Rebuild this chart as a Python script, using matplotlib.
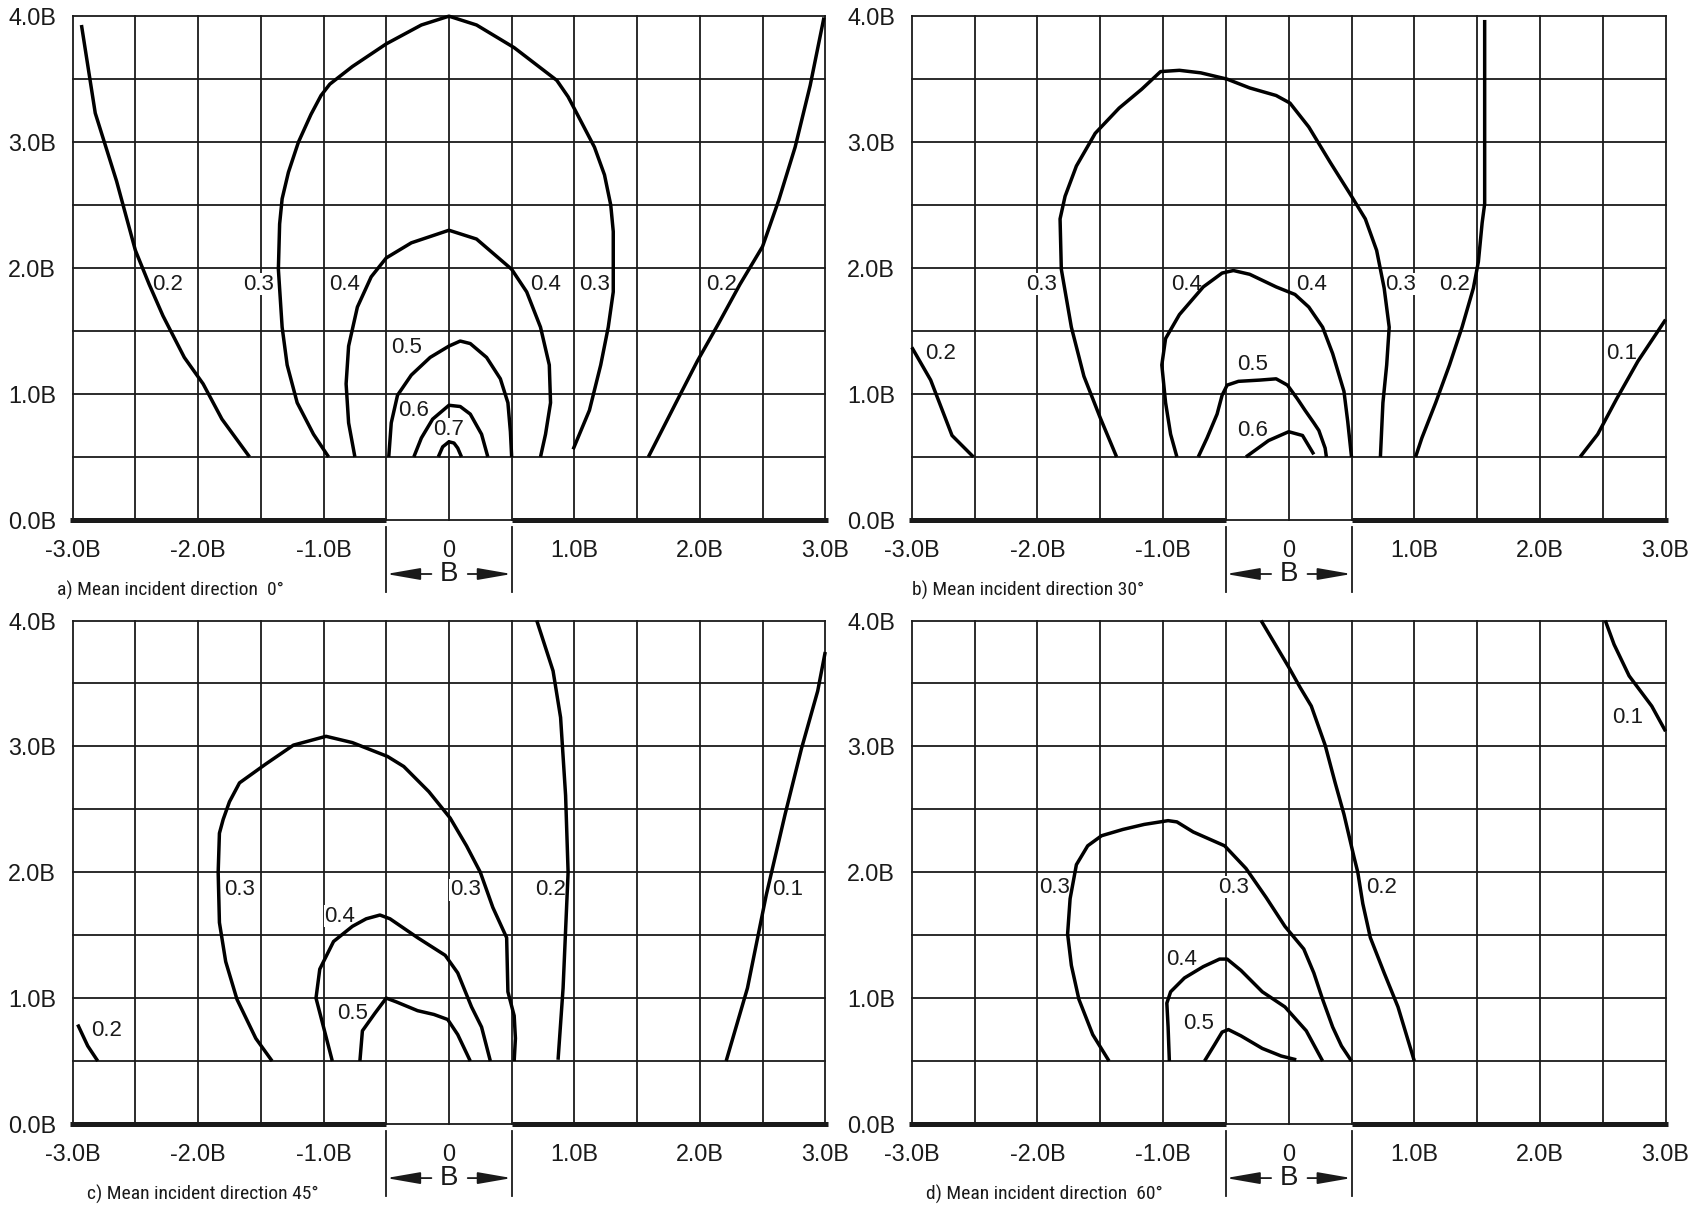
import numpy as np
import matplotlib.pyplot as plt

plt.rcParams['font.family'] = ['Liberation Sans', 'DejaVu Sans']
caption_font = ['Roboto Condensed', 'Archivo Narrow', 'Liberation Sans Narrow', 'Liberation Sans']

# contour lines, points in units of B (x, height)
# a) 0 deg
a_02_left = [(-2.93, 3.93), (-2.82, 3.23), (-2.65, 2.69), (-2.50, 2.14), (-2.39, 1.87), (-2.28, 1.62),
             (-2.11, 1.29), (-1.96, 1.08), (-1.81, 0.80), (-1.59, 0.50)]
a_02_right = [(2.99, 3.99), (2.88, 3.45), (2.76, 2.96), (2.63, 2.54), (2.50, 2.17), (2.32, 1.87),
              (2.15, 1.56), (1.98, 1.26), (1.81, 0.93), (1.59, 0.50)]
a_03 = [(-0.96, 0.50), (-1.08, 0.68), (-1.21, 0.93), (-1.29, 1.23), (-1.33, 1.53), (-1.36, 1.99),
        (-1.35, 2.35), (-1.33, 2.55), (-1.28, 2.76), (-1.20, 3.00), (-1.10, 3.22), (-1.02, 3.37),
        (-0.95, 3.46), (-0.77, 3.60), (-0.50, 3.78), (-0.22, 3.93), (0.0, 4.0), (0.22, 3.93),
        (0.52, 3.75), (0.86, 3.49), (0.95, 3.36), (1.05, 3.17), (1.16, 2.96), (1.24, 2.74),
        (1.29, 2.50), (1.31, 2.29), (1.31, 1.81), (1.27, 1.53), (1.21, 1.23), (1.12, 0.87), (0.99, 0.56)]
a_04 = [(-0.75, 0.50), (-0.80, 0.77), (-0.82, 1.08), (-0.80, 1.38), (-0.73, 1.69), (-0.62, 1.93),
        (-0.50, 2.08), (-0.30, 2.20), (0.0, 2.30), (0.22, 2.23), (0.50, 1.99), (0.62, 1.81),
        (0.73, 1.53), (0.80, 1.23), (0.81, 0.93), (0.77, 0.68), (0.73, 0.50)]
a_05 = [(-0.48, 0.50), (-0.46, 0.77), (-0.41, 0.99), (-0.30, 1.15), (-0.15, 1.29), (0.0, 1.38),
        (0.09, 1.42), (0.17, 1.40), (0.30, 1.29), (0.41, 1.12), (0.47, 0.93), (0.49, 0.70), (0.50, 0.50)]
a_06 = [(-0.28, 0.50), (-0.22, 0.65), (-0.13, 0.80), (0.0, 0.91), (0.09, 0.90), (0.17, 0.84),
        (0.26, 0.68), (0.31, 0.50)]
a_07 = [(-0.085, 0.50), (-0.05, 0.58), (0.0, 0.62), (0.04, 0.61), (0.07, 0.57), (0.10, 0.50)]
a_labels = [('0.2', -2.24, 1.87), ('0.3', -1.52, 1.87), ('0.4', -0.83, 1.87), ('0.5', -0.34, 1.37),
            ('0.6', -0.28, 0.87), ('0.7', 0.0, 0.72), ('0.4', 0.77, 1.87), ('0.3', 1.16, 1.87),
            ('0.2', 2.17, 1.87)]

# b) 30 deg
b_02_left = [(-3.0, 1.37), (-2.85, 1.11), (-2.68, 0.67), (-2.51, 0.50)]
b_03 = [(-1.37, 0.50), (-1.50, 0.81), (-1.63, 1.14), (-1.73, 1.53), (-1.81, 1.99), (-1.82, 2.39),
        (-1.78, 2.57), (-1.69, 2.81), (-1.54, 3.07), (-1.35, 3.27), (-1.17, 3.42), (-1.02, 3.56),
        (-0.87, 3.57), (-0.70, 3.55), (-0.49, 3.50), (-0.31, 3.43), (-0.10, 3.37), (0.01, 3.31),
        (0.16, 3.12), (0.33, 2.84), (0.50, 2.57), (0.61, 2.39), (0.70, 2.14), (0.76, 1.84),
        (0.80, 1.53), (0.78, 1.23), (0.75, 0.93), (0.73, 0.50)]
b_04 = [(-0.89, 0.50), (-0.94, 0.68), (-0.98, 0.93), (-1.01, 1.23), (-0.98, 1.44), (-0.87, 1.63),
        (-0.68, 1.85), (-0.53, 1.96), (-0.44, 1.98), (-0.31, 1.95), (-0.10, 1.85), (0.05, 1.79),
        (0.16, 1.69), (0.27, 1.53), (0.35, 1.32), (0.44, 1.02), (0.47, 0.78), (0.50, 0.50)]
b_05 = [(-0.72, 0.50), (-0.65, 0.65), (-0.57, 0.84), (-0.53, 0.99), (-0.49, 1.07), (-0.40, 1.10),
        (-0.23, 1.11), (-0.10, 1.12), (-0.01, 1.07), (0.07, 0.96), (0.13, 0.87), (0.20, 0.77),
        (0.24, 0.71), (0.29, 0.57), (0.30, 0.50)]
b_06 = [(-0.34, 0.50), (-0.16, 0.63), (0.0, 0.70), (0.11, 0.67), (0.17, 0.57), (0.20, 0.52)]
b_02_right = [(1.01, 0.50), (1.06, 0.65), (1.17, 0.93), (1.28, 1.23), (1.38, 1.53), (1.47, 1.84),
              (1.51, 2.05), (1.54, 2.36), (1.56, 2.51), (1.56, 2.90), (1.56, 3.51), (1.56, 3.97)]
b_01 = [(2.32, 0.50), (2.46, 0.68), (2.61, 0.96), (2.78, 1.26), (3.0, 1.59)]
b_labels = [('0.2', -2.77, 1.32), ('0.3', -1.97, 1.87), ('0.4', -0.81, 1.87), ('0.4', 0.18, 1.87),
            ('0.5', -0.29, 1.23), ('0.6', -0.29, 0.71), ('0.3', 0.89, 1.87), ('0.2', 1.32, 1.87),
            ('0.1', 2.65, 1.32)]

# c) 45 deg
c_02_left = [(-2.96, 0.79), (-2.88, 0.62), (-2.80, 0.50)]
c_03 = [(-1.41, 0.50), (-1.54, 0.68), (-1.69, 0.99), (-1.78, 1.29), (-1.83, 1.60), (-1.84, 2.0),
        (-1.83, 2.31), (-1.80, 2.42), (-1.75, 2.56), (-1.67, 2.71), (-1.46, 2.86), (-1.24, 3.01),
        (-0.98, 3.08), (-0.77, 3.03), (-0.49, 2.92), (-0.36, 2.84), (-0.16, 2.64), (0.01, 2.43),
        (0.14, 2.21), (0.25, 2.0), (0.35, 1.72), (0.46, 1.48), (0.47, 1.05), (0.52, 0.86),
        (0.53, 0.68), (0.52, 0.50)]
c_04 = [(-0.93, 0.50), (-1.00, 0.77), (-1.06, 1.00), (-1.03, 1.23), (-0.92, 1.45), (-0.77, 1.57),
        (-0.66, 1.63), (-0.55, 1.66), (-0.47, 1.63), (-0.25, 1.48), (-0.03, 1.34), (0.07, 1.20),
        (0.18, 0.93), (0.26, 0.77), (0.33, 0.50)]
c_05 = [(-0.71, 0.50), (-0.69, 0.74), (-0.59, 0.88), (-0.50, 1.0), (-0.42, 0.97), (-0.25, 0.90),
        (-0.12, 0.87), (-0.01, 0.83), (0.07, 0.71), (0.17, 0.50)]
c_02_right = [(0.70, 4.0), (0.83, 3.60), (0.89, 3.23), (0.93, 2.61), (0.95, 2.0), (0.93, 1.54),
              (0.91, 1.08), (0.87, 0.51)]
c_01 = [(2.21, 0.50), (2.38, 1.08), (2.53, 1.82), (2.68, 2.46), (2.81, 2.98), (2.94, 3.44), (3.0, 3.75)]
c_labels = [('0.2', -2.73, 0.74), ('0.3', -1.67, 1.86), ('0.3', 0.13, 1.86), ('0.2', 0.81, 1.86),
            ('0.1', 2.70, 1.86), ('0.4', -0.87, 1.65), ('0.5', -0.77, 0.88)]

# d) 60 deg
d_02 = [(-0.22, 4.0), (0.0, 3.63), (0.09, 3.47), (0.18, 3.32), (0.29, 3.01), (0.37, 2.71),
        (0.44, 2.46), (0.52, 2.12), (0.55, 2.0), (0.59, 1.75), (0.65, 1.48), (0.76, 1.20),
        (0.87, 0.93), (1.0, 0.50)]
d_01 = [(2.52, 4.0), (2.59, 3.81), (2.71, 3.56), (2.89, 3.32), (3.0, 3.12)]
d_03 = [(-1.43, 0.50), (-1.56, 0.71), (-1.67, 0.99), (-1.73, 1.26), (-1.76, 1.51), (-1.74, 1.79),
        (-1.69, 2.06), (-1.60, 2.21), (-1.49, 2.29), (-1.32, 2.34), (-1.15, 2.38), (-0.96, 2.41),
        (-0.89, 2.40), (-0.76, 2.32), (-0.51, 2.21), (-0.34, 2.03), (-0.18, 1.80), (-0.03, 1.57),
        (0.12, 1.39), (0.20, 1.20), (0.27, 0.99), (0.35, 0.77), (0.42, 0.62), (0.50, 0.50)]
d_04 = [(-0.95, 0.50), (-0.96, 0.77), (-0.97, 0.96), (-0.94, 1.05), (-0.83, 1.16), (-0.68, 1.25),
        (-0.55, 1.31), (-0.49, 1.31), (-0.38, 1.22), (-0.21, 1.05), (-0.03, 0.93), (0.14, 0.74),
        (0.27, 0.50)]
d_05 = [(-0.67, 0.50), (-0.59, 0.63), (-0.53, 0.73), (-0.48, 0.75), (-0.38, 0.70), (-0.21, 0.60),
        (-0.06, 0.54), (0.06, 0.51)]
d_labels = [('0.3', -1.86, 1.88), ('0.3', -0.44, 1.88), ('0.2', 0.74, 1.88), ('0.4', -0.85, 1.31),
            ('0.5', -0.72, 0.80), ('0.1', 2.70, 3.23)]

xtick_pos = [-3, -2, -1, 0, 1, 2, 3]
xtick_lab = ['-3.0B', '-2.0B', '-1.0B', '0', '1.0B', '2.0B', '3.0B']
ytick_pos = [0, 1, 2, 3, 4]
ytick_lab = ['0.0B', '1.0B', '2.0B', '3.0B', '4.0B']


def draw_panel(ax, curves, labels, caption, cap_x):
    ink = '#1a1a1a'
    for x in np.arange(-3, 3.01, 0.5):
        ax.plot([x, x], [0, 4], color=ink, lw=1.3, clip_on=False, zorder=1)
    for y in np.arange(0, 4.01, 0.5):
        ax.plot([-3, 3], [y, y], color=ink, lw=1.3, clip_on=False, zorder=1)
    # ground line, gap where the building sits
    ax.plot([-3.02, -0.5], [0, 0], color=ink, lw=3.6, solid_capstyle='butt', clip_on=False, zorder=3)
    ax.plot([0.5, 3.02], [0, 0], color=ink, lw=3.6, solid_capstyle='butt', clip_on=False, zorder=3)
    # width B marker
    for x in [-0.5, 0.5]:
        ax.plot([x, x], [-0.055, -0.57], color=ink, lw=1.3, clip_on=False)
    arrow = dict(arrowstyle='-|>,head_length=1.15,head_width=0.2', color=ink, lw=1.3,
                 mutation_scale=18, shrinkA=0, shrinkB=0)
    ax.annotate('', xy=(-0.5, -0.43), xytext=(-0.14, -0.43), arrowprops=arrow, annotation_clip=False)
    ax.annotate('', xy=(0.5, -0.43), xytext=(0.15, -0.43), arrowprops=arrow, annotation_clip=False)
    ax.text(0, -0.43, 'B', ha='center', va='center', fontsize=20, color=ink)

    for pts in curves:
        pts = np.array(pts)
        ax.plot(pts[:, 0], pts[:, 1], color='black', lw=2.5, solid_joinstyle='round',
                solid_capstyle='butt', clip_on=False, zorder=4)
    for s, x, y in labels:
        ax.text(x, y, s, ha='center', va='center', fontsize=16, color=ink, zorder=2,
                bbox=dict(facecolor='white', edgecolor='none', pad=0.3))

    ax.set_xlim(-3, 3)
    ax.set_ylim(0, 4)
    ax.set_xticks(xtick_pos, xtick_lab)
    ax.set_yticks(ytick_pos, ytick_lab)
    ax.tick_params(length=0, labelsize=16.8, colors=ink)
    ax.tick_params(axis='x', pad=14)
    ax.tick_params(axis='y', pad=12)
    for sp in ax.spines.values():
        sp.set_visible(False)
    ax.text(cap_x, -0.14, caption, transform=ax.transAxes, ha='left', va='center',
            fontsize=14, color=ink, family=caption_font)


fig = plt.figure(figsize=(16.98, 12.07), dpi=100)
ax_a = fig.add_axes([0.0428, 0.5693, 0.4432, 0.4173])
ax_b = fig.add_axes([0.5370, 0.5693, 0.4439, 0.4173])
ax_c = fig.add_axes([0.0428, 0.0688, 0.4432, 0.4171])
ax_d = fig.add_axes([0.5370, 0.0688, 0.4439, 0.4171])

draw_panel(ax_a, [a_02_left, a_02_right, a_03, a_04, a_05, a_06, a_07], a_labels,
           'a) Mean incident direction  0°', -0.021)
draw_panel(ax_b, [b_02_left, b_03, b_04, b_05, b_06, b_02_right, b_01], b_labels,
           'b) Mean incident direction 30°', 0.0)
draw_panel(ax_c, [c_02_left, c_03, c_04, c_05, c_02_right, c_01], c_labels,
           'c) Mean incident direction 45°', 0.0186)
draw_panel(ax_d, [d_02, d_01, d_03, d_04, d_05], d_labels,
           'd) Mean incident direction  60°', 0.0186)

fig.savefig('out.png', dpi=100)
